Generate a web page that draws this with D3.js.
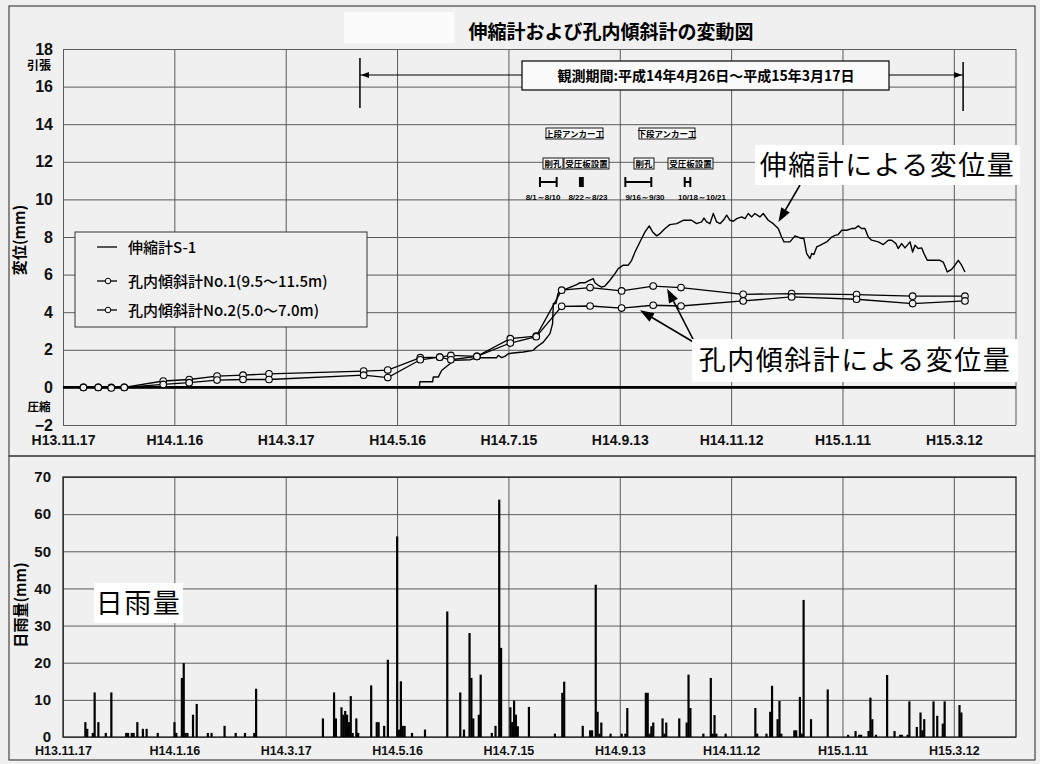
<!DOCTYPE html>
<html>
<head>
<meta charset="utf-8">
<script src="https://cdn.jsdelivr.net/npm/d3@7"></script>
<style>
  body { margin: 0; background: #f0f0f0; }
  svg { display: block; font-family: "Noto Sans CJK JP", "Noto Sans", sans-serif; }
  .num { font-family: "Liberation Sans Narrow", "Liberation Sans", sans-serif; font-weight: bold; }
</style>
</head>
<body>
<div id="chart"></div>
<script>
// --- DATI (giorni dal H13.11.17) ---
const baseDate = new Date(2001, 10, 17);
const tickDays = [0, 60, 120, 180, 240, 300, 360, 420, 480];
const tickLabels = ["H13.11.17", "H14.1.16", "H14.3.17", "H14.5.16", "H14.7.15", "H14.9.13", "H14.11.12", "H15.1.11", "H15.3.12"];
const dispTicks = [-2, 0, 2, 4, 6, 8, 10, 12, 14, 16, 18];
const rainTicks = [0, 10, 20, 30, 40, 50, 60, 70];

// 伸縮計S-1 [giorno, mm]
const extensometer = [
  [192.0, 0.02], [192.3, 0.30], [199.2, 0.30], [199.5, 0.55], [202.2, 0.55], [204.0, 0.90],
  [208.5, 1.26], [210.3, 1.44], [219.3, 1.47], [222.9, 1.58], [233.7, 1.58], [234.5, 1.70],
  [236.4, 1.58], [238.1, 1.65], [239.9, 1.79], [242.6, 1.83], [248.0, 1.88], [253.4, 1.97],
  [255.2, 2.15], [258.8, 2.41], [262.4, 2.86], [263.8, 3.39], [264.2, 4.46], [265.6, 4.46],
  [266.7, 5.00], [267.8, 5.11], [276.8, 5.47], [278.6, 5.57], [281.3, 5.57], [283.9, 5.70],
  [285.7, 5.79], [286.6, 5.57], [288.4, 5.43], [290.2, 5.34], [292.0, 5.39], [294.7, 5.70],
  [297.4, 6.05], [299.2, 6.32], [301.9, 6.50], [304.6, 6.50], [306.4, 6.76], [308.2, 7.20],
  [310.0, 7.56], [311.8, 7.92], [313.6, 8.27], [315.9, 8.59], [317.7, 8.27], [319.9, 8.06],
  [321.7, 8.18], [324.4, 8.45], [327.0, 8.66], [330.7, 8.71], [334.2, 8.89], [338.7, 8.89],
  [341.4, 8.71], [344.1, 8.80], [345.4, 9.01], [346.8, 8.80], [348.6, 8.71], [350.4, 9.25],
  [352.2, 8.80], [354.0, 8.71], [355.8, 8.89], [357.6, 9.16], [359.4, 8.89], [361.2, 8.84],
  [363.0, 8.98], [365.7, 9.07], [367.5, 8.98], [369.2, 9.25], [371.1, 9.07], [372.8, 9.25],
  [375.5, 9.07], [377.3, 9.25], [380.0, 8.89], [382.7, 8.71], [385.4, 8.45], [387.2, 8.00],
  [388.5, 7.74], [391.7, 7.74], [394.4, 8.06], [397.1, 7.95], [399.2, 7.92], [400.7, 7.12],
  [402.5, 6.85], [403.4, 7.12], [404.6, 7.07], [406.1, 7.47], [407.9, 7.56], [409.6, 7.65],
  [411.5, 7.74], [414.2, 8.00], [416.0, 8.09], [417.7, 8.13], [419.6, 8.36], [422.3, 8.36],
  [424.9, 8.45], [426.7, 8.45], [428.5, 8.59], [430.3, 8.45], [432.1, 8.45], [433.9, 8.00],
  [435.7, 7.83], [439.3, 7.74], [442.0, 7.60], [444.7, 7.83], [446.5, 7.83], [448.8, 7.65],
  [450.0, 7.39], [451.9, 7.65], [453.7, 7.42], [456.4, 7.74], [457.8, 7.20], [459.1, 7.56],
  [460.8, 7.39], [462.7, 7.42], [463.9, 7.12], [465.7, 6.76], [472.5, 6.76], [474.3, 6.67],
  [476.5, 6.14], [478.8, 6.28], [480.6, 6.50], [482.4, 6.76], [484.2, 6.50], [486.0, 6.14]
];

// 孔内傾斜計 (giorni di misura comuni)
const inclDays = [11, 19, 26, 33, 54, 68, 83, 97, 111, 162, 175, 192.5, 203, 209, 223, 241, 255,
  268.7, 284, 301, 318, 333, 366.5, 392.6, 427.6, 457.8, 486];
const incl1 = [0, 0, 0, 0, 0.34, 0.42, 0.60, 0.65, 0.72, 0.87, 0.92, 1.58, 1.61, 1.70, 1.65, 2.59, 2.73,
  5.17, 5.31, 5.13, 5.39, 5.31, 4.95, 4.99, 4.94, 4.85, 4.85];
const incl2 = [0, 0, -0.03, 0, 0.16, 0.25, 0.39, 0.42, 0.42, 0.65, 0.52, 1.47, 1.61, 1.47, 1.65, 2.36, 2.70,
  4.31, 4.33, 4.22, 4.37, 4.33, 4.60, 4.81, 4.69, 4.46, 4.60];

// 日雨量
const rainDays = [12, 13, 16, 17, 19, 23, 26, 34, 35, 37, 38, 40, 43, 45, 51, 60, 61, 64, 65, 66, 67, 70, 72,
  78, 80, 87, 93, 98, 103, 104, 140, 146, 147, 150, 151, 152, 153, 154, 155, 156, 158, 159, 166, 169, 170,
  173, 175, 180, 181, 182, 183, 184, 188, 195, 207, 214, 216, 219, 220, 221, 224, 225, 231, 233, 235, 236,
  241, 242, 243, 244, 245, 251, 265, 269, 270, 280, 284, 285, 287, 288, 289, 290, 295, 301, 303, 304,
  314, 315, 316, 317, 318, 323, 324, 325, 332, 336, 337, 338, 345, 349, 350, 351, 352, 357, 373, 374,
  379, 381, 382, 385, 386, 387, 394, 395, 397, 398, 399, 403, 412, 423, 427, 429, 430, 434, 435, 436,
  438, 444, 448, 451, 452, 455, 456, 460, 462, 463, 464, 469, 471, 474, 475, 483, 484];
const rainMm = [4.0, 2.2, 1.1, 12.0, 4.0, 1.1, 12.0, 1.1, 1.1, 1.1, 1.1, 4.0, 2.2, 2.2, 1.1, 4.0, 1.1, 15.9, 19.9, 1.1, 1.1, 6.0, 8.9,
  1.1, 1.1, 3.0, 1.1, 1.1, 1.1, 13.0, 5.0, 12.0, 5.0, 8.0, 6.0, 7.0, 6.0, 4.0, 11.0, 1.1, 5.0, 1.1, 13.9, 4.0, 4.0,
  3.0, 20.8, 54.0, 2.0, 15.0, 3.0, 3.0, 1.1, 2.0, 33.8, 12.0, 2.0, 28.0, 15.9, 5.0, 6.0, 16.8, 1.1, 3.0, 63.9, 24.0,
  8.0, 4.0, 9.8, 6.0, 2.9, 8.1, 0.9, 11.9, 14.9, 3.0, 1.8, 1.8, 41.0, 6.8, 0.9, 3.9, 0.9, 0.9, 0.9, 7.8,
  11.9, 11.9, 0.9, 2.9, 3.9, 5.0, 0.9, 3.9, 5.0, 3.9, 16.8, 7.8, 0.9, 15.9, 0.9, 5.9, 0.9, 0.9, 7.8, 0.9,
  0.9, 6.8, 13.8, 4.8, 9.7, 0.9, 1.8, 1.8, 10.8, 0.9, 36.9, 4.8, 12.8, 0.6, 1.6, 0.6, 0.6, 1.6, 10.6, 4.8,
  0.6, 16.7, 1.6, 0.6, 0.6, 0.6, 9.6, 2.7, 6.6, 1.8, 4.8, 9.6, 5.7, 3.6, 9.6, 8.6, 6.6];

// アンカー工
const worksDates = [["2002-08-01", "2002-08-10"], ["2002-08-22", "2002-08-23"], ["2002-09-16", "2002-09-30"], ["2002-10-18", "2002-10-21"]];
const worksText = ["8/1～8/10", "8/22～8/23", "9/16～9/30", "10/18～10/21"];
const obsPeriod = ["2002-04-26", "2003-03-17"];

const dayOf = s => d3.timeDay.count(baseDate, d3.timeParse("%Y-%m-%d")(s));

// --- SETUP ---
const width = 1040, height = 764;
const bg = "#f0f0f0";
const gridCol = "#5a5a5a";

const svg = d3.select("#chart").append("svg").attr("width", width).attr("height", height);
svg.append("rect").attr("width", width).attr("height", height).attr("fill", bg);

const x = d3.scaleLinear().domain([0, 513.5]).range([63, 1016]);
const yTop = d3.scaleLinear().domain([-2, 18]).range([425, 49]);
const yRain = d3.scaleLinear().domain([0, 70]).range([737, 477]);

// cornici
svg.append("rect").attr("x", 9).attr("y", 6).attr("width", 1026).attr("height", 450)
  .attr("fill", "none").attr("stroke", "#444").attr("stroke-width", 1.2);
svg.append("rect").attr("x", 9).attr("y", 456).attr("width", 1026).attr("height", 304)
  .attr("fill", "none").attr("stroke", "#444").attr("stroke-width", 1.2);

// titolo
svg.append("rect").attr("x", 344).attr("y", 12).attr("width", 110).attr("height", 31).attr("fill", "#fbfbfb");
svg.append("text").attr("x", 611).attr("y", 39).attr("text-anchor", "middle")
  .attr("font-size", 19).attr("font-weight", "bold").text("伸縮計および孔内傾斜計の変動図");

// --- PANNELLO SUPERIORE ---
const topG = svg.append("g");

function styleAxis(g) {
  g.select(".domain").remove();
  g.selectAll(".tick line").attr("stroke", gridCol).attr("stroke-width", 1);
  g.selectAll(".tick text").attr("class", "num").attr("fill", "#111");
}

topG.append("g").attr("transform", "translate(0,425)")
  .call(d3.axisBottom(x).tickValues(tickDays).tickFormat((d, i) => tickLabels[i])
    .tickSize(-(425 - 49)).tickPadding(10))
  .call(styleAxis)
  .call(g => g.selectAll("text").attr("font-size", 14));

topG.append("g").attr("transform", "translate(63,0)")
  .call(d3.axisLeft(yTop).tickValues(dispTicks).tickFormat(d => d < 0 ? "−" + (-d) : d)
    .tickSize(-(1016 - 63)).tickPadding(10))
  .call(styleAxis)
  .call(g => g.selectAll("text").attr("font-size", 16));

topG.append("line").attr("x1", x(513.5)).attr("x2", x(513.5)).attr("y1", 49).attr("y2", 425)
  .attr("stroke", gridCol);

// linea dello zero
topG.append("line").attr("x1", 63).attr("x2", 1016).attr("y1", yTop(0)).attr("y2", yTop(0))
  .attr("stroke", "#000").attr("stroke-width", 2.6);

topG.append("text").attr("x", 39).attr("y", 70).attr("text-anchor", "middle")
  .attr("font-size", 12).attr("font-weight", "bold").text("引張");
topG.append("text").attr("x", 39).attr("y", 411).attr("text-anchor", "middle")
  .attr("font-size", 11.5).attr("font-weight", "bold").text("圧縮");
topG.append("text").attr("transform", "translate(25,240) rotate(-90)").attr("text-anchor", "middle")
  .attr("font-size", 15).attr("font-weight", "bold").text("変位(mm)");

// periodo di osservazione
const xs = x(dayOf(obsPeriod[0])), xe = x(dayOf(obsPeriod[1]));
topG.append("line").attr("x1", xs).attr("x2", xs).attr("y1", 58).attr("y2", 108).attr("stroke", "#000").attr("stroke-width", 1.5);
topG.append("line").attr("x1", xe).attr("x2", xe).attr("y1", 62).attr("y2", 111).attr("stroke", "#000").attr("stroke-width", 1.5);
topG.append("line").attr("x1", xs).attr("x2", 522).attr("y1", 75).attr("y2", 75).attr("stroke", "#000");
topG.append("line").attr("x1", 889).attr("x2", xe).attr("y1", 75).attr("y2", 75).attr("stroke", "#000");
topG.append("path").attr("d", `M${xs + 1},75 l8,-3 v6 z`).attr("fill", "#000");
topG.append("path").attr("d", `M${xe - 1},75 l-8,-3 v6 z`).attr("fill", "#000");
topG.append("rect").attr("x", 522).attr("y", 61).attr("width", 367).attr("height", 29)
  .attr("fill", "#fafafa").attr("stroke", "#000").attr("stroke-width", 1.2);
topG.append("text").attr("x", 706).attr("y", 81).attr("text-anchor", "middle").attr("font-size", 14)
  .attr("font-weight", "bold").text("観測期間:平成14年4月26日～平成15年3月17日");

// annotazioni anchor
const boxes = [
  { t: "上段アンカー工", cx: 574.5, w: 57, y: 128 },
  { t: "下段アンカー工", cx: 667, w: 56, y: 128 },
  { t: "削孔", cx: 553, w: 20, y: 158 },
  { t: "受圧板設置", cx: 586.5, w: 45, y: 158 },
  { t: "削孔", cx: 644, w: 20, y: 158 },
  { t: "受圧板設置", cx: 690.5, w: 45, y: 158 }
];
boxes.forEach(b => {
  topG.append("rect").attr("x", b.cx - b.w / 2).attr("y", b.y).attr("width", b.w).attr("height", 11)
    .attr("fill", "#fafafa").attr("stroke", "#000").attr("stroke-width", 0.9);
  topG.append("text").attr("x", b.cx).attr("y", b.y + 8.6).attr("text-anchor", "middle")
    .attr("font-size", 8.5).attr("font-weight", "bold").text(b.t);
});
const dateCx = [543, 588, 645, 702];
worksDates.forEach((p, i) => {
  const a = x(dayOf(p[0])), b = x(dayOf(p[1])) + (i === 1 ? 2 : 0);
  const g = topG.append("g");
  if (i === 1) {
    g.append("rect").attr("x", a).attr("y", 177).attr("width", b - a + 1).attr("height", 10).attr("fill", "#000");
  } else {
    g.append("line").attr("x1", a).attr("x2", b).attr("y1", 182).attr("y2", 182).attr("stroke", "#000").attr("stroke-width", 2);
    [a, b].forEach(v => g.append("line").attr("x1", v).attr("x2", v).attr("y1", 177).attr("y2", 187)
      .attr("stroke", "#000").attr("stroke-width", 2));
  }
  topG.append("text").attr("x", dateCx[i]).attr("y", 200).attr("text-anchor", "middle")
    .attr("class", "num").attr("font-size", 8).text(worksText[i]);
});

// linee dati
const line = d3.line().x(d => x(d[0])).y(d => yTop(d[1]));
topG.append("path").datum(extensometer).attr("d", line).attr("fill", "none")
  .attr("stroke", "#000").attr("stroke-width", 1.4).attr("stroke-linejoin", "round");

[incl1, incl2].forEach(vals => {
  const pts = inclDays.map((d, i) => [d, vals[i]]);
  topG.append("path").datum(pts).attr("d", line).attr("fill", "none")
    .attr("stroke", "#000").attr("stroke-width", 1.3);
  topG.selectAll(null).data(pts).join("circle")
    .attr("cx", d => x(d[0])).attr("cy", d => yTop(d[1])).attr("r", 3.3)
    .attr("fill", bg).attr("stroke", "#000").attr("stroke-width", 1.1);
});

// legenda
const leg = topG.append("g");
leg.append("rect").attr("x", 75).attr("y", 232).attr("width", 292).attr("height", 95)
  .attr("fill", bg).attr("stroke", "#333").attr("stroke-width", 1);
const legItems = ["伸縮計S-1", "孔内傾斜計No.1(9.5～11.5m)", "孔内傾斜計No.2(5.0～7.0m)"];
const legY = [247, 281, 310];
legItems.forEach((t, i) => {
  leg.append("line").attr("x1", 97).attr("x2", 117).attr("y1", legY[i]).attr("y2", legY[i])
    .attr("stroke", "#000").attr("stroke-width", 1.3);
  if (i > 0) leg.append("circle").attr("cx", 108).attr("cy", legY[i]).attr("r", 2.8)
    .attr("fill", bg).attr("stroke", "#000");
  leg.append("text").attr("x", 128).attr("y", legY[i] + 5.5).attr("font-size", 15)
    .attr("font-weight", 500).text(t);
});

// etichette grandi con frecce
function arrow(g, x1, y1, x2, y2) {
  const ang = Math.atan2(y2 - y1, x2 - x1), L = 14, w = 5;
  const bx = x2 - L * Math.cos(ang), by = y2 - L * Math.sin(ang);
  g.append("line").attr("x1", x1).attr("y1", y1).attr("x2", bx).attr("y2", by)
    .attr("stroke", "#000").attr("stroke-width", 1.6);
  g.append("path").attr("fill", "#000").attr("d",
    `M${x2},${y2} L${bx + w * Math.sin(ang)},${by - w * Math.cos(ang)} L${bx - w * Math.sin(ang)},${by + w * Math.cos(ang)} Z`);
}
arrow(topG, 800, 185, x(385.5), yTop(8.8));
arrow(topG, 695, 343, x(325.5), yTop(5.25));
arrow(topG, 695, 343, x(310.9), yTop(4.1));

function bigLabel(g, t, bx, by, bw, bh) {
  g.append("rect").attr("x", bx).attr("y", by).attr("width", bw).attr("height", bh).attr("fill", "#fff");
  g.append("text").attr("x", bx + bw / 2).attr("y", by + bh / 2 + 9.5).attr("text-anchor", "middle")
    .attr("font-size", 27).attr("letter-spacing", 1.5).text(t);
}
bigLabel(topG, "伸縮計による変位量", 755, 145, 265, 40);
bigLabel(topG, "孔内傾斜計による変位量", 692, 339, 326, 43);

// --- PANNELLO INFERIORE ---
const bot = svg.append("g");
bot.append("g").attr("transform", "translate(0,737)")
  .call(d3.axisBottom(x).tickValues(tickDays).tickFormat((d, i) => tickLabels[i])
    .tickSize(-(737 - 477)).tickPadding(9))
  .call(styleAxis)
  .call(g => g.selectAll("text").attr("font-size", 12.5));
bot.append("g").attr("transform", "translate(63,0)")
  .call(d3.axisLeft(yRain).tickValues(rainTicks).tickSize(-(1016 - 63)).tickPadding(12))
  .call(styleAxis)
  .call(g => g.selectAll("text").attr("font-size", 15));
bot.append("rect").attr("x", 63).attr("y", 477).attr("width", 1016 - 63).attr("height", 737 - 477)
  .attr("fill", "none").attr("stroke", "#222").attr("stroke-width", 1.3);

bot.selectAll(null).data(rainDays.map((d, i) => [d, rainMm[i]])).join("rect")
  .attr("x", d => x(d[0]) - 1).attr("width", 2.2)
  .attr("y", d => yRain(d[1])).attr("height", d => yRain(0) - yRain(d[1]))
  .attr("fill", "#000");

bot.append("text").attr("transform", "translate(26,605) rotate(-90)").attr("text-anchor", "middle")
  .attr("font-size", 15).attr("font-weight", "bold").text("日雨量(mm)");
bigLabel(bot, "日雨量", 94, 583, 89, 40);
</script>
</body>
</html>
